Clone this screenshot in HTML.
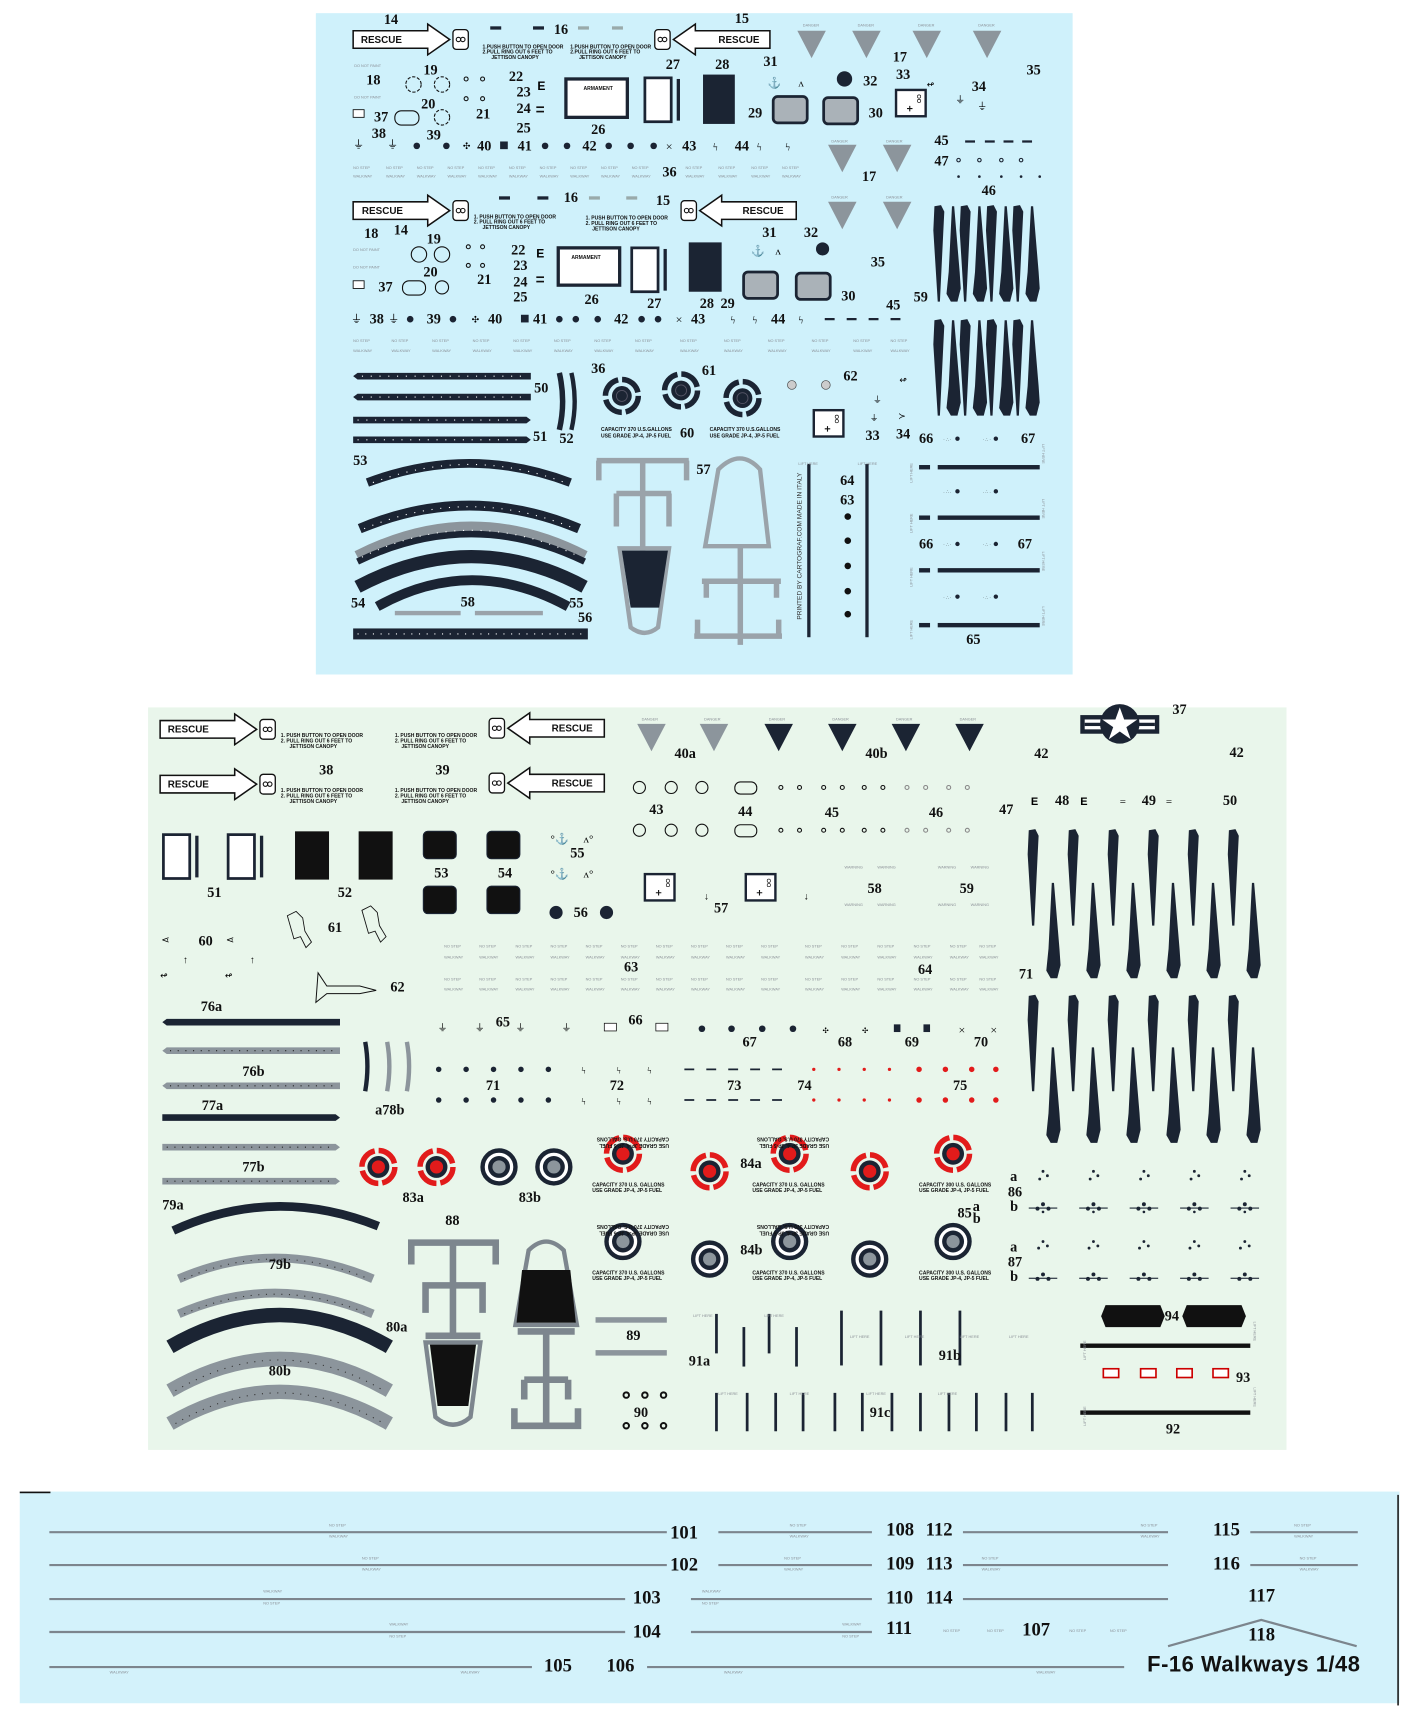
<!DOCTYPE html>
<html><head><meta charset="utf-8"><style>
html,body{margin:0;padding:0;background:#fff;width:1417px;height:1723px;overflow:hidden}
svg{display:block}
.n{font-family:"Liberation Serif",serif;font-weight:bold;font-size:13px;fill:#111}
.m{font-family:"Liberation Serif",serif;font-size:17px;fill:#111}
.r{font-family:"Liberation Sans",sans-serif;font-weight:bold;font-size:9px;fill:#111}
.t{font-family:"Liberation Sans",sans-serif;font-weight:bold;font-size:4.6px;fill:#111}
.g{font-family:"Liberation Sans",sans-serif;font-size:3.5px;fill:#8a8f96}
.d{font-family:"Liberation Sans",sans-serif;font-size:4px;fill:#333}
</style></head><body>
<svg width="1417" height="1723" viewBox="0 0 1292 1571" preserveAspectRatio="none" xmlns="http://www.w3.org/2000/svg" xmlns:xlink="http://www.w3.org/1999/xlink">
<defs>
<g id="resR"><polygon points="0,0 68,0 68,-6 88,8 68,22 68,16 0,16" fill="#fff" stroke="#111" stroke-width="1.4"/><rect x="91" y="-1" width="14" height="18" rx="3" fill="#fff" stroke="#111" stroke-width="1.2"/><circle cx="96" cy="8" r="2" fill="none" stroke="#111"/><circle cx="100" cy="8" r="2" fill="none" stroke="#111"/></g>
<g id="resL"><polygon points="105,0 37,0 37,-6 17,8 37,22 37,16 105,16" fill="#fff" stroke="#111" stroke-width="1.4"/><rect x="0" y="-1" width="14" height="18" rx="3" fill="#fff" stroke="#111" stroke-width="1.2"/><circle cx="5" cy="8" r="2" fill="none" stroke="#111"/><circle cx="9" cy="8" r="2" fill="none" stroke="#111"/></g>
<g id="triG"><polygon points="0,0 26,0 13,25" fill="#8c959c"/></g>
<g id="triD"><polygon points="0,0 26,0 13,25" fill="#1b2433"/></g>
<g id="spD"><path d="M0,0 L6,-1 L9,5 L8,25 L5,87 L3,87 L-1,22 Z" fill="#1b2433"/></g>
<g id="spU"><path d="M4,0 L6,0 L11,60 L12,75 L9,87 L3,87 L-1,80 L1,60 Z" fill="#1b2433"/></g>
<g id="rndD"><circle r="15" fill="none" stroke="#1b2433" stroke-width="5" stroke-dasharray="20 3.6"/><circle r="9" fill="#1b2433"/><circle r="5" fill="none" stroke="#556" stroke-width="0.8"/></g>
<g id="rndR"><circle r="15" fill="none" stroke="#e21b1b" stroke-width="5" stroke-dasharray="20 3.6"/><circle r="10" fill="#1b2433"/><circle r="6" fill="#e21b1b"/></g>
<g id="rndG"><circle r="15" fill="#fff" stroke="#1b2433" stroke-width="4"/><circle r="10" fill="#1b2433"/><circle r="6" fill="#8c959c"/></g>
<g id="frame"><rect x="0" y="0" width="24" height="40" fill="#fff" stroke="#1b2433" stroke-width="2.5"/><rect x="29" y="1" width="3" height="38" fill="#1b2433"/></g>
<g id="gsq"><rect x="0" y="0" width="31" height="24" rx="4" fill="#aab2b8" stroke="#1b2433" stroke-width="2.5"/></g>
<g id="bsq"><rect x="0" y="0" width="30" height="25" rx="4" fill="#111" stroke="#1b2433" stroke-width="1"/></g>
<g id="box"><rect x="0" y="0" width="27" height="24" fill="#fff" stroke="#1b2433" stroke-width="2.2"/><circle cx="21" cy="6" r="1.5" fill="none" stroke="#111" stroke-width=".6"/><circle cx="21" cy="10" r="1.5" fill="none" stroke="#111" stroke-width=".6"/><path d="M10,17h5M12.5,14.5v5" stroke="#111" stroke-width="1"/></g>
</defs>

<!-- ===================== SHEET 1 ===================== -->
<rect x="288" y="12" width="690" height="603" fill="#cff1fb"/>
<use xlink:href="#resR" x="322" y="28"/>
<use xlink:href="#resL" x="597" y="28"/>
<text class="r" x="329" y="39">RESCUE</text><text class="r" x="655" y="39">RESCUE</text>
<text class="t" x="440" y="44">1.PUSH BUTTON TO OPEN DOOR</text><text class="t" x="440" y="49">2.PULL RING OUT 6 FEET TO</text><text class="t" x="448" y="54">JETTISON CANOPY</text>
<text class="t" x="520" y="44">1.PUSH BUTTON TO OPEN DOOR</text><text class="t" x="520" y="49">2.PULL RING OUT 6 FEET TO</text><text class="t" x="528" y="54">JETTISON CANOPY</text>
<rect x="447" y="24" width="10" height="3" fill="#1b2433"/><rect x="486" y="24" width="10" height="3" fill="#1b2433"/><rect x="527" y="24" width="10" height="3" fill="#9aa"/><rect x="558" y="24" width="10" height="3" fill="#9aa"/>
<text class="n" x="350" y="22">14</text><text class="n" x="505" y="31">16</text><text class="n" x="670" y="21">15</text>
<use xlink:href="#triG" x="727" y="28"/><use xlink:href="#triG" x="777" y="28"/><use xlink:href="#triG" x="832" y="28"/><use xlink:href="#triG" x="887" y="28"/>
<text class="g" x="732" y="24">DANGER</text><text class="g" x="782" y="24">DANGER</text><text class="g" x="837" y="24">DANGER</text><text class="g" x="892" y="24">DANGER</text>
<text class="n" x="814" y="56">17</text><text class="n" x="936" y="68">35</text><text class="n" x="817" y="72">33</text><text class="n" x="886" y="83">34</text>
<text class="g" x="323" y="61">DO NOT PAINT</text><text class="g" x="323" y="90">DO NOT PAINT</text>
<text class="n" x="334" y="77">18</text><text class="n" x="386" y="68">19</text><text class="n" x="384" y="99">20</text><text class="n" x="341" y="111">37</text><text class="n" x="434" y="108">21</text>
<text class="n" x="464" y="74">22</text><text class="n" x="471" y="88">23</text><text class="n" x="471" y="103">24</text><text class="n" x="471" y="121">25</text>
<circle cx="377" cy="77" r="7" fill="none" stroke="#111" stroke-dasharray="3 1.5"/><circle cx="403" cy="77" r="7" fill="none" stroke="#111" stroke-dasharray="3 1.5"/>
<rect x="360" y="101" width="22" height="13" rx="6" fill="none" stroke="#111"/><circle cx="403" cy="107" r="7" fill="none" stroke="#111" stroke-dasharray="3 1.5"/>
<rect x="322" y="100" width="10" height="7" fill="#fff" stroke="#111" stroke-width=".8"/>
<circle cx="425" cy="72" r="1.8" fill="none" stroke="#111"/><circle cx="440" cy="72" r="1.8" fill="none" stroke="#111"/><circle cx="425" cy="90" r="1.8" fill="none" stroke="#111"/><circle cx="440" cy="90" r="1.8" fill="none" stroke="#111"/>
<text x="490" y="82" font-family="Liberation Sans" font-weight="bold" font-size="11">E</text><rect x="489" y="97" width="7" height="1.5" fill="#111"/><rect x="489" y="101" width="7" height="1.5" fill="#111"/>
<rect x="516" y="72" width="56" height="35" fill="#fff" stroke="#1b2433" stroke-width="3"/><text class="t" x="532" y="82">ARMAMENT</text>
<text class="n" x="539" y="122">26</text>
<use xlink:href="#frame" x="588" y="71"/><text class="n" x="607" y="63">27</text>
<rect x="641" y="68" width="29" height="45" fill="#1b2433"/><text class="n" x="652" y="63">28</text>
<use xlink:href="#gsq" x="705" y="88"/><use xlink:href="#gsq" x="751" y="89"/>
<text class="n" x="682" y="107">29</text><text class="n" x="792" y="107">30</text><text class="n" x="696" y="60">31</text><text class="n" x="787" y="78">32</text>
<circle cx="770" cy="72" r="7" fill="#1b2433"/>
<text x="700" y="79" font-size="10" fill="#111">⚓</text><text x="728" y="79" font-size="10" fill="#111">ʌ</text>
<use xlink:href="#box" x="817" y="82"/>
<text x="845" y="80" font-size="8">↫</text><text x="871" y="94" font-size="9">⏚</text><text x="891" y="100" font-size="9">⏚</text>
<text class="n" x="339" y="126">38</text><text class="n" x="389" y="127">39</text><text class="n" x="435" y="137">40</text><text class="n" x="472" y="137">41</text><text class="n" x="531" y="137">42</text><text class="n" x="622" y="137">43</text><text class="n" x="670" y="137">44</text>
<text x="322" y="135" font-size="10">⏚</text><text x="353" y="135" font-size="10">⏚</text>
<circle cx="380" cy="133" r="3" fill="#1b2433"/><circle cx="407" cy="133" r="3" fill="#1b2433"/><text x="422" y="136" font-size="8">✣</text><rect x="456" y="129" width="7" height="7" fill="#1b2433"/>
<circle cx="497" cy="133" r="3" fill="#1b2433"/><circle cx="517" cy="133" r="3" fill="#1b2433"/><circle cx="555" cy="133" r="3" fill="#1b2433"/><circle cx="575" cy="133" r="3" fill="#1b2433"/><circle cx="596" cy="133" r="3" fill="#1b2433"/>
<text x="607" y="137" font-size="11">×</text><text x="650" y="137" font-size="10">ϟ</text><text x="690" y="137" font-size="10">ϟ</text><text x="716" y="137" font-size="10">ϟ</text>
<text class="n" x="852" y="132">45</text><text class="n" x="852" y="151">47</text>
<path d="M880,129h9M898,129h9M915,129h9M932,129h9" stroke="#1b2433" stroke-width="2"/>
<g fill="none" stroke="#1b2433"><circle cx="874" cy="146" r="1.6"/><circle cx="893" cy="146" r="1.6"/><circle cx="913" cy="146" r="1.6"/><circle cx="931" cy="146" r="1.6"/></g>
<g fill="#1b2433"><circle cx="874" cy="161" r="1.2"/><circle cx="893" cy="161" r="1.2"/><circle cx="913" cy="161" r="1.2"/><circle cx="931" cy="161" r="1.2"/><circle cx="948" cy="161" r="1.2"/></g>
<use xlink:href="#triG" x="755" y="132"/><use xlink:href="#triG" x="805" y="132"/>
<text class="g" x="758" y="130">DANGER</text><text class="g" x="808" y="130">DANGER</text>
<text class="n" x="786" y="165">17</text><text class="n" x="895" y="178">46</text><text class="n" x="604" y="161">36</text>
<g class="g"><text x="322" y="154">NO STEP</text><text x="352" y="154">NO STEP</text><text x="380" y="154">NO STEP</text><text x="408" y="154">NO STEP</text><text x="436" y="154">NO STEP</text><text x="464" y="154">NO STEP</text><text x="492" y="154">NO STEP</text><text x="520" y="154">NO STEP</text><text x="548" y="154">NO STEP</text><text x="576" y="154">NO STEP</text><text x="625" y="154">NO STEP</text><text x="655" y="154">NO STEP</text><text x="685" y="154">NO STEP</text><text x="713" y="154">NO STEP</text>
<text x="322" y="162">WALKWAY</text><text x="352" y="162">WALKWAY</text><text x="380" y="162">WALKWAY</text><text x="408" y="162">WALKWAY</text><text x="436" y="162">WALKWAY</text><text x="464" y="162">WALKWAY</text><text x="492" y="162">WALKWAY</text><text x="520" y="162">WALKWAY</text><text x="548" y="162">WALKWAY</text><text x="576" y="162">WALKWAY</text><text x="625" y="162">WALKWAY</text><text x="655" y="162">WALKWAY</text><text x="685" y="162">WALKWAY</text><text x="713" y="162">WALKWAY</text></g>

<!-- second half -->
<use xlink:href="#resR" x="322" y="184"/><use xlink:href="#resL" x="621" y="184"/>
<text class="r" x="330" y="195">RESCUE</text><text class="r" x="677" y="195">RESCUE</text>
<text class="t" x="432" y="199">1. PUSH BUTTON TO OPEN DOOR</text><text class="t" x="432" y="204">2. PULL RING OUT 6 FEET TO</text><text class="t" x="440" y="209">JETTISON CANOPY</text>
<text class="t" x="534" y="200">1. PUSH BUTTON TO OPEN DOOR</text><text class="t" x="534" y="205">2. PULL RING OUT 6 FEET TO</text><text class="t" x="540" y="210">JETTISON CANOPY</text>
<rect x="455" y="179" width="10" height="3" fill="#1b2433"/><rect x="490" y="179" width="10" height="3" fill="#1b2433"/><rect x="537" y="179" width="10" height="3" fill="#9aa"/><rect x="571" y="179" width="10" height="3" fill="#9aa"/>
<text class="n" x="514" y="184">16</text><text class="n" x="598" y="187">15</text>
<text class="n" x="332" y="217">18</text><text class="n" x="359" y="214">14</text><text class="n" x="389" y="222">19</text><text class="n" x="386" y="252">20</text><text class="n" x="345" y="266">37</text><text class="n" x="435" y="259">21</text>
<text class="n" x="466" y="232">22</text><text class="n" x="468" y="246">23</text><text class="n" x="468" y="261">24</text><text class="n" x="468" y="275">25</text>
<text class="g" x="322" y="229">DO NOT PAINT</text><text class="g" x="322" y="245">DO NOT PAINT</text>
<circle cx="382" cy="232" r="7" fill="none" stroke="#111"/><circle cx="403" cy="232" r="7" fill="none" stroke="#111"/>
<rect x="367" y="256" width="21" height="13" rx="6" fill="none" stroke="#111"/><circle cx="403" cy="262" r="6" fill="none" stroke="#111"/>
<rect x="322" y="256" width="10" height="7" fill="#fff" stroke="#111" stroke-width=".8"/>
<circle cx="427" cy="225" r="1.8" fill="none" stroke="#111"/><circle cx="440" cy="225" r="1.8" fill="none" stroke="#111"/><circle cx="427" cy="242" r="1.8" fill="none" stroke="#111"/><circle cx="440" cy="242" r="1.8" fill="none" stroke="#111"/>
<text x="489" y="235" font-family="Liberation Sans" font-weight="bold" font-size="11">E</text><rect x="489" y="252" width="7" height="1.5" fill="#111"/><rect x="489" y="256" width="7" height="1.5" fill="#111"/>
<rect x="509" y="226" width="56" height="34" fill="#fff" stroke="#1b2433" stroke-width="3"/><text class="t" x="521" y="236">ARMAMENT</text>
<text class="n" x="533" y="277">26</text>
<use xlink:href="#frame" x="576" y="226"/><text class="n" x="590" y="281">27</text>
<rect x="628" y="221" width="30" height="45" fill="#1b2433"/><text class="n" x="638" y="281">28</text><text class="n" x="657" y="281">29</text>
<use xlink:href="#gsq" x="678" y="248"/><use xlink:href="#gsq" x="726" y="249"/>
<text class="n" x="767" y="274">30</text><text class="n" x="695" y="216">31</text><text class="n" x="733" y="216">32</text>
<circle cx="750" cy="227" r="6" fill="#1b2433"/><text x="685" y="232" font-size="10">⚓</text><text x="707" y="232" font-size="10">ʌ</text>
<use xlink:href="#triG" x="755" y="184"/><use xlink:href="#triG" x="805" y="184"/>
<text class="g" x="758" y="181">DANGER</text><text class="g" x="808" y="181">DANGER</text>
<text class="n" x="794" y="243">35</text><text class="n" x="808" y="282">45</text><text class="n" x="833" y="275">59</text>
<text class="n" x="337" y="295">38</text><text class="n" x="389" y="295">39</text><text class="n" x="445" y="295">40</text><text class="n" x="486" y="295">41</text><text class="n" x="560" y="295">42</text><text class="n" x="630" y="295">43</text><text class="n" x="703" y="295">44</text>
<text x="320" y="294" font-size="10">⏚</text><text x="354" y="294" font-size="10">⏚</text>
<circle cx="374" cy="291" r="3" fill="#1b2433"/><circle cx="413" cy="291" r="3" fill="#1b2433"/><text x="430" y="294" font-size="8">✣</text><rect x="475" y="287" width="7" height="7" fill="#1b2433"/>
<circle cx="510" cy="291" r="3" fill="#1b2433"/><circle cx="525" cy="291" r="3" fill="#1b2433"/><circle cx="545" cy="291" r="3" fill="#1b2433"/><circle cx="585" cy="291" r="3" fill="#1b2433"/><circle cx="600" cy="291" r="3" fill="#1b2433"/>
<text x="616" y="295" font-size="11">×</text><text x="666" y="295" font-size="10">ϟ</text><text x="686" y="295" font-size="10">ϟ</text><text x="728" y="295" font-size="10">ϟ</text>
<path d="M752,291h9M772,291h9M792,291h9M812,291h9" stroke="#1b2433" stroke-width="2"/>
<g class="g"><text x="322" y="312">NO STEP</text><text x="357" y="312">NO STEP</text><text x="394" y="312">NO STEP</text><text x="431" y="312">NO STEP</text><text x="468" y="312">NO STEP</text><text x="505" y="312">NO STEP</text><text x="542" y="312">NO STEP</text><text x="579" y="312">NO STEP</text><text x="620" y="312">NO STEP</text><text x="660" y="312">NO STEP</text><text x="700" y="312">NO STEP</text><text x="740" y="312">NO STEP</text><text x="778" y="312">NO STEP</text><text x="812" y="312">NO STEP</text>
<text x="322" y="321">WALKWAY</text><text x="357" y="321">WALKWAY</text><text x="394" y="321">WALKWAY</text><text x="431" y="321">WALKWAY</text><text x="468" y="321">WALKWAY</text><text x="505" y="321">WALKWAY</text><text x="542" y="321">WALKWAY</text><text x="579" y="321">WALKWAY</text><text x="620" y="321">WALKWAY</text><text x="660" y="321">WALKWAY</text><text x="700" y="321">WALKWAY</text><text x="740" y="321">WALKWAY</text><text x="778" y="321">WALKWAY</text><text x="812" y="321">WALKWAY</text></g>
<!-- strakes sheet1 -->
<g transform="translate(852,188)">
<use xlink:href="#spD" x="0"/><use xlink:href="#spU" x="12"/><use xlink:href="#spD" x="24"/><use xlink:href="#spU" x="36"/><use xlink:href="#spD" x="48"/><use xlink:href="#spU" x="60"/><use xlink:href="#spD" x="72"/><use xlink:href="#spU" x="84"/>
</g>
<g transform="translate(852,292)">
<use xlink:href="#spD" x="0"/><use xlink:href="#spU" x="12"/><use xlink:href="#spD" x="24"/><use xlink:href="#spU" x="36"/><use xlink:href="#spD" x="48"/><use xlink:href="#spU" x="60"/><use xlink:href="#spD" x="72"/><use xlink:href="#spU" x="84"/>
</g>
<!-- strips 50/51 -->
<g fill="#1b2433"><path d="M326,340h158v6h-158l-4,-3z"/><path d="M326,359h158v6h-158l-4,-3z"/><path d="M322,380h158l4,3l-4,3h-158z"/><path d="M322,398h158l4,3l-4,3h-158z"/></g>
<g stroke="#fff" stroke-width="1" stroke-dasharray="1 7"><path d="M330,343h150M330,362h150M326,383h150M326,401h150"/></g>
<path d="M510,340q6,26 0,52" fill="none" stroke="#1b2433" stroke-width="5"/><path d="M521,340q6,26 0,52" fill="none" stroke="#1b2433" stroke-width="4"/>
<text class="n" x="487" y="358">50</text><text class="n" x="486" y="402">51</text><text class="n" x="510" y="404">52</text>
<use xlink:href="#rndD" x="567" y="361"/><use xlink:href="#rndD" x="621" y="356"/><use xlink:href="#rndD" x="677" y="363"/>
<text class="n" x="539" y="340">36</text><text class="n" x="640" y="342">61</text><text class="n" x="620" y="399">60</text>
<text class="t" x="548" y="393">CAPACITY 370 U.S.GALLONS</text><text class="t" x="548" y="399">USE GRADE JP-4, JP-5 FUEL</text>
<text class="t" x="647" y="393">CAPACITY 370 U.S.GALLONS</text><text class="t" x="647" y="399">USE GRADE JP-4, JP-5 FUEL</text>
<circle cx="722" cy="351" r="4" fill="#ccc" stroke="#444" stroke-width=".6"/><circle cx="753" cy="351" r="4" fill="#ccc" stroke="#444" stroke-width=".6"/>
<text class="n" x="769" y="347">62</text>
<use xlink:href="#box" x="742" y="374"/>
<text x="820" y="349" font-size="8">↫</text><text x="796" y="367" font-size="8">⏚</text><text x="793" y="384" font-size="8">⏚</text><text x="819" y="382" font-size="8">≻</text>
<text class="n" x="789" y="401">33</text><text class="n" x="817" y="400">34</text>
<text class="n" x="838" y="404">66</text><text class="n" x="931" y="404">67</text><text class="n" x="838" y="500">66</text><text class="n" x="928" y="500">67</text><text class="n" x="881" y="587">65</text>
<g fill="#1b2433"><circle cx="873" cy="400" r="2"/><circle cx="908" cy="400" r="2"/><circle cx="873" cy="448" r="2"/><circle cx="908" cy="448" r="2"/><circle cx="873" cy="496" r="2"/><circle cx="908" cy="496" r="2"/><circle cx="873" cy="544" r="2"/><circle cx="908" cy="544" r="2"/></g>
<g class="d"><text x="860" y="402">· ∴ ·</text><text x="896" y="402">· ∴ ·</text><text x="860" y="450">· ∴ ·</text><text x="896" y="450">· ∴ ·</text><text x="860" y="498">· ∴ ·</text><text x="896" y="498">· ∴ ·</text><text x="860" y="546">· ∴ ·</text><text x="896" y="546">· ∴ ·</text></g>
<g fill="#1b2433"><rect x="838" y="424" width="10" height="4"/><rect x="855" y="424" width="93" height="4"/><rect x="838" y="470" width="10" height="4"/><rect x="855" y="470" width="93" height="4"/><rect x="838" y="518" width="10" height="4"/><rect x="855" y="518" width="93" height="4"/><rect x="838" y="568" width="10" height="4"/><rect x="855" y="568" width="93" height="4"/></g>
<g class="g" fill="#333"><text x="832" y="440" transform="rotate(-90 832 440)">LIFT HERE</text><text x="832" y="486" transform="rotate(-90 832 486)">LIFT HERE</text><text x="832" y="535" transform="rotate(-90 832 535)">LIFT HERE</text><text x="832" y="583" transform="rotate(-90 832 583)">LIFT HERE</text><text x="950" y="405" transform="rotate(90 950 405)">LIFT HERE</text><text x="950" y="455" transform="rotate(90 950 455)">LIFT HERE</text><text x="950" y="503" transform="rotate(90 950 503)">LIFT HERE</text><text x="950" y="553" transform="rotate(90 950 553)">LIFT HERE</text></g>
<!-- arcs 53-56 -->
<g fill="none" stroke-linecap="butt">
<path d="M335,440 Q428,405 520,440" stroke="#1b2433" stroke-width="8"/>
<path d="M328,482 Q428,440 528,482" stroke="#1b2433" stroke-width="9"/>
<path d="M326,508 Q430,455 533,508" stroke="#8c959c" stroke-width="12"/>
<path d="M326,512 Q430,462 533,512" stroke="#1b2433" stroke-width="6"/>
<path d="M326,535 Q430,480 533,535" stroke="#1b2433" stroke-width="12"/>
<path d="M344,553 Q430,505 518,553" stroke="#1b2433" stroke-width="9"/>
</g>
<g stroke="#fff" stroke-dasharray="1 7" fill="none" stroke-width="1"><path d="M340,440 Q428,407 515,440"/><path d="M332,482 Q428,442 524,482"/><path d="M330,508 Q430,459 529,508"/></g>
<text class="n" x="322" y="424">53</text><text class="n" x="320" y="554">54</text><text class="n" x="519" y="554">55</text><text class="n" x="527" y="567">56</text><text class="n" x="420" y="553">58</text>
<rect x="360" y="557" width="60" height="4" fill="#9aa3aa"/><rect x="433" y="557" width="62" height="4" fill="#9aa3aa"/>
<rect x="322" y="573" width="214" height="10" fill="#1b2433"/>
<path d="M326,578h206" stroke="#fff" stroke-dasharray="1 6"/>
<!-- 57 -->
<g fill="none" stroke="#9aa3aa" stroke-width="5">
<path d="M544,420h84M546,420v18M626,420v18M586,420v90M562,450h50M562,450v30M610,450v30M586,450v50"/>
<path d="M565,500h45l-10,72q-12,10 -25,0z" stroke-width="4"/>
<path d="M655,428q20,-20 38,0l8,70h-58z" stroke-width="4"/>
<path d="M675,498v90M640,530h72M644,530v15M708,530v15M633,580h80M636,565v15M710,565v15"/>
</g>
<path d="M567,502h42l-8,52h-26z" fill="#1b2433"/>
<text class="n" x="635" y="432">57</text>
<rect x="736" y="423" width="3" height="158" fill="#1b2433"/><rect x="789" y="423" width="3" height="158" fill="#1b2433"/>
<g class="g" fill="#333"><text x="728" y="424">LIFT HERE</text><text x="782" y="424">LIFT HERE</text></g>
<text x="731" y="565" transform="rotate(-90 731 565)" font-family="Liberation Sans" font-size="6" fill="#333">PRINTED BY CARTOGRAF.COM MADE IN ITALY</text>
<g fill="#111"><circle cx="773" cy="471" r="3"/><circle cx="773" cy="493" r="3"/><circle cx="773" cy="516" r="3"/><circle cx="773" cy="539" r="3"/><circle cx="773" cy="560" r="3"/></g>
<text class="n" x="766" y="442">64</text><text class="n" x="766" y="460">63</text>

<!-- ===================== SHEET 2 ===================== -->
<rect x="135" y="645" width="1038" height="677" fill="#e9f6eb"/>
<use xlink:href="#resR" x="146" y="657"/><use xlink:href="#resR" x="146" y="707"/>
<use xlink:href="#resL" x="446" y="656"/><use xlink:href="#resL" x="446" y="706"/>
<text class="r" x="153" y="668">RESCUE</text><text class="r" x="153" y="718">RESCUE</text><text class="r" x="503" y="667">RESCUE</text><text class="r" x="503" y="717">RESCUE</text>
<text class="t" x="256" y="672">1. PUSH BUTTON TO OPEN DOOR</text><text class="t" x="256" y="677">2. PULL RING OUT 6 FEET TO</text><text class="t" x="264" y="682">JETTISON CANOPY</text>
<text class="t" x="360" y="672">1. PUSH BUTTON TO OPEN DOOR</text><text class="t" x="360" y="677">2. PULL RING OUT 6 FEET TO</text><text class="t" x="366" y="682">JETTISON CANOPY</text>
<text class="t" x="256" y="722">1. PUSH BUTTON TO OPEN DOOR</text><text class="t" x="256" y="727">2. PULL RING OUT 6 FEET TO</text><text class="t" x="264" y="732">JETTISON CANOPY</text>
<text class="t" x="360" y="722">1. PUSH BUTTON TO OPEN DOOR</text><text class="t" x="360" y="727">2. PULL RING OUT 6 FEET TO</text><text class="t" x="366" y="732">JETTISON CANOPY</text>
<text class="n" x="291" y="706">38</text><text class="n" x="397" y="706">39</text>
<use xlink:href="#triG" x="581" y="660"/><use xlink:href="#triG" x="638" y="660"/><use xlink:href="#triD" x="697" y="660"/><use xlink:href="#triD" x="755" y="660"/><use xlink:href="#triD" x="813" y="660"/><use xlink:href="#triD" x="871" y="660"/>
<g class="g" fill="#333"><text x="585" y="657">DANGER</text><text x="642" y="657">DANGER</text><text x="701" y="657">DANGER</text><text x="759" y="657">DANGER</text><text x="817" y="657">DANGER</text><text x="875" y="657">DANGER</text></g>
<text class="n" x="615" y="691">40a</text><text class="n" x="789" y="691">40b</text>
<rect x="985" y="652" width="72" height="17" fill="#1b2433"/><rect x="989" y="656" width="64" height="9" fill="#fff"/><rect x="989" y="659" width="64" height="3" fill="#1b2433"/>
<circle cx="1021" cy="660" r="18" fill="#1b2433"/>
<polygon points="1021,645 1025,656 1037,656 1027,663 1031,674 1021,667 1011,674 1015,663 1005,656 1017,656" fill="#fff"/>
<text class="n" x="1069" y="651">37</text><text class="n" x="943" y="691">42</text><text class="n" x="1121" y="690">42</text>
<g fill="none" stroke="#111"><circle cx="583" cy="718" r="5.5"/><circle cx="612" cy="718" r="5.5"/><circle cx="640" cy="718" r="5.5"/><rect x="670" y="713" width="20" height="11" rx="5"/><circle cx="583" cy="757" r="5.5"/><circle cx="612" cy="757" r="5.5"/><circle cx="640" cy="757" r="5.5"/><rect x="670" y="752" width="20" height="11" rx="5"/>
<circle cx="712" cy="718" r="1.8"/><circle cx="729" cy="718" r="1.8"/><circle cx="751" cy="718" r="1.8"/><circle cx="768" cy="718" r="1.8"/><circle cx="788" cy="718" r="1.8"/><circle cx="805" cy="718" r="1.8"/><circle cx="712" cy="757" r="1.8"/><circle cx="729" cy="757" r="1.8"/><circle cx="751" cy="757" r="1.8"/><circle cx="768" cy="757" r="1.8"/><circle cx="788" cy="757" r="1.8"/><circle cx="805" cy="757" r="1.8"/>
</g>
<g fill="none" stroke="#888"><circle cx="827" cy="718" r="1.8"/><circle cx="844" cy="718" r="1.8"/><circle cx="865" cy="718" r="1.8"/><circle cx="882" cy="718" r="1.8"/><circle cx="827" cy="757" r="1.8"/><circle cx="844" cy="757" r="1.8"/><circle cx="865" cy="757" r="1.8"/><circle cx="882" cy="757" r="1.8"/></g>
<text class="n" x="592" y="742">43</text><text class="n" x="673" y="744">44</text><text class="n" x="752" y="745">45</text><text class="n" x="847" y="745">46</text><text class="n" x="911" y="742">47</text>
<text x="940" y="734" font-family="Liberation Sans" font-weight="bold" font-size="10">E</text><text x="985" y="734" font-family="Liberation Sans" font-weight="bold" font-size="10">E</text>
<text class="n" x="962" y="734">48</text><text x="1021" y="734" font-size="10">=</text><text class="n" x="1041" y="734">49</text><text x="1063" y="734" font-size="10">=</text><text class="n" x="1115" y="734">50</text>
<use xlink:href="#frame" x="149" y="761"/><use xlink:href="#frame" x="208" y="761"/>
<rect x="269" y="758" width="31" height="44" fill="#111"/><rect x="327" y="758" width="31" height="44" fill="#111"/>
<text class="n" x="189" y="818">51</text><text class="n" x="308" y="818">52</text>
<use xlink:href="#bsq" x="386" y="758"/><use xlink:href="#bsq" x="444" y="758"/><use xlink:href="#bsq" x="386" y="808"/><use xlink:href="#bsq" x="444" y="808"/>
<text class="n" x="396" y="800">53</text><text class="n" x="454" y="800">54</text>
<text x="502" y="768" font-size="10">°⚓</text><text x="532" y="768" font-size="10">ʌ°</text><text x="502" y="800" font-size="10">°⚓</text><text x="532" y="800" font-size="10">ʌ°</text>
<text class="n" x="520" y="782">55</text><text class="n" x="523" y="836">56</text>
<circle cx="507" cy="832" r="6" fill="#1b2433"/><circle cx="553" cy="832" r="6" fill="#1b2433"/>
<use xlink:href="#box" x="588" y="797"/><use xlink:href="#box" x="680" y="797"/>
<text class="n" x="651" y="832">57</text><text x="642" y="820" font-size="9">↓</text><text x="733" y="820" font-size="9">↓</text>
<text class="n" x="791" y="814">58</text><text class="n" x="875" y="814">59</text>
<g class="g" fill="#333"><text x="770" y="792">WARNING</text><text x="800" y="792">WARNING</text><text x="855" y="792">WARNING</text><text x="885" y="792">WARNING</text><text x="770" y="826">WARNING</text><text x="800" y="826">WARNING</text><text x="855" y="826">WARNING</text><text x="885" y="826">WARNING</text></g>
<text class="n" x="181" y="862">60</text><text class="n" x="299" y="850">61</text><text class="n" x="356" y="904">62</text>
<text x="147" y="860" font-size="9">⋖</text><text x="206" y="860" font-size="9">⋖</text><text x="167" y="878" font-size="9">↑</text><text x="228" y="878" font-size="9">↑</text><text x="146" y="892" font-size="8">↫</text><text x="205" y="892" font-size="8">↫</text>
<path d="M262,835l8,-4l6,6l2,12l6,10l-5,5l-5,-10l-6,2z M330,830l8,-4l6,6l2,12l6,10l-5,5l-5,-10l-6,2z" fill="none" stroke="#111" stroke-width=".8"/>
<path d="M290,887l8,12h30l15,4l-15,3h-30l-10,8z" fill="none" stroke="#111" stroke-width=".9"/>
<g class="g" fill="#444">
<text x="405" y="864">NO STEP</text><text x="437" y="864">NO STEP</text><text x="470" y="864">NO STEP</text><text x="502" y="864">NO STEP</text><text x="534" y="864">NO STEP</text><text x="566" y="864">NO STEP</text><text x="598" y="864">NO STEP</text><text x="630" y="864">NO STEP</text><text x="662" y="864">NO STEP</text><text x="694" y="864">NO STEP</text><text x="734" y="864">NO STEP</text><text x="767" y="864">NO STEP</text><text x="800" y="864">NO STEP</text><text x="833" y="864">NO STEP</text><text x="866" y="864">NO STEP</text><text x="893" y="864">NO STEP</text>
<text x="405" y="874">WALKWAY</text><text x="437" y="874">WALKWAY</text><text x="470" y="874">WALKWAY</text><text x="502" y="874">WALKWAY</text><text x="534" y="874">WALKWAY</text><text x="566" y="874">WALKWAY</text><text x="598" y="874">WALKWAY</text><text x="630" y="874">WALKWAY</text><text x="662" y="874">WALKWAY</text><text x="694" y="874">WALKWAY</text><text x="734" y="874">WALKWAY</text><text x="767" y="874">WALKWAY</text><text x="800" y="874">WALKWAY</text><text x="833" y="874">WALKWAY</text><text x="866" y="874">WALKWAY</text><text x="893" y="874">WALKWAY</text>
<text x="405" y="894">NO STEP</text><text x="437" y="894">NO STEP</text><text x="470" y="894">NO STEP</text><text x="502" y="894">NO STEP</text><text x="534" y="894">NO STEP</text><text x="566" y="894">NO STEP</text><text x="598" y="894">NO STEP</text><text x="630" y="894">NO STEP</text><text x="662" y="894">NO STEP</text><text x="694" y="894">NO STEP</text><text x="734" y="894">NO STEP</text><text x="767" y="894">NO STEP</text><text x="800" y="894">NO STEP</text><text x="833" y="894">NO STEP</text><text x="866" y="894">NO STEP</text><text x="893" y="894">NO STEP</text>
<text x="405" y="903">WALKWAY</text><text x="437" y="903">WALKWAY</text><text x="470" y="903">WALKWAY</text><text x="502" y="903">WALKWAY</text><text x="534" y="903">WALKWAY</text><text x="566" y="903">WALKWAY</text><text x="598" y="903">WALKWAY</text><text x="630" y="903">WALKWAY</text><text x="662" y="903">WALKWAY</text><text x="694" y="903">WALKWAY</text><text x="734" y="903">WALKWAY</text><text x="767" y="903">WALKWAY</text><text x="800" y="903">WALKWAY</text><text x="833" y="903">WALKWAY</text><text x="866" y="903">WALKWAY</text><text x="893" y="903">WALKWAY</text></g>
<text class="n" x="569" y="886">63</text><text class="n" x="837" y="888">64</text>
<text class="n" x="183" y="922">76a</text><text class="n" x="221" y="981">76b</text><text class="n" x="184" y="1012">77a</text><text class="n" x="221" y="1068">77b</text><text class="n" x="342" y="1016">a78b</text>
<path d="M152,929h158v6h-158l-4,-3z" fill="#1b2433"/>
<path d="M152,955h158v6h-158l-4,-3z" fill="#8c959c"/><path d="M152,987h158v6h-158l-4,-3z" fill="#8c959c"/>
<path d="M148,1016h158l4,3l-4,3h-158z" fill="#1b2433"/>
<path d="M148,1043h158l4,3l-4,3h-158z" fill="#8c959c"/><path d="M148,1074h158l4,3l-4,3h-158z" fill="#8c959c"/>
<g stroke="#222" stroke-dasharray="1 6"><path d="M155,958h150M155,990h150M152,1046h150M152,1077h150"/></g>
<path d="M333,950q4,22 0,45" fill="none" stroke="#1b2433" stroke-width="4"/><path d="M353,950q4,22 0,45" fill="none" stroke="#8c959c" stroke-width="4"/><path d="M371,950q4,22 0,45" fill="none" stroke="#8c959c" stroke-width="4"/>
<text x="399" y="940" font-size="9">⏚</text><text x="433" y="940" font-size="9">⏚</text><text x="470" y="940" font-size="9">⏚</text><text x="512" y="940" font-size="9">⏚</text>
<text class="n" x="452" y="936">65</text><text class="n" x="573" y="934">66</text>
<rect x="551" y="933" width="11" height="7" fill="#fff" stroke="#111" stroke-width=".7"/><rect x="598" y="933" width="11" height="7" fill="#fff" stroke="#111" stroke-width=".7"/>
<g fill="#1b2433"><circle cx="640" cy="938" r="3"/><circle cx="667" cy="938" r="3"/><circle cx="695" cy="938" r="3"/><circle cx="723" cy="938" r="3"/><rect x="815" y="934" width="6" height="7"/><rect x="842" y="934" width="6" height="7"/></g>
<text x="750" y="942" font-size="7">✣</text><text x="786" y="942" font-size="7">✣</text><text x="874" y="943" font-size="11">×</text><text x="903" y="943" font-size="11">×</text>
<text class="n" x="677" y="954">67</text><text class="n" x="764" y="954">68</text><text class="n" x="825" y="954">69</text><text class="n" x="888" y="954">70</text>
<g fill="#1b2433"><circle cx="400" cy="975" r="2.5"/><circle cx="425" cy="975" r="2.5"/><circle cx="450" cy="975" r="2.5"/><circle cx="475" cy="975" r="2.5"/><circle cx="500" cy="975" r="2.5"/><circle cx="400" cy="1003" r="2.5"/><circle cx="425" cy="1003" r="2.5"/><circle cx="450" cy="1003" r="2.5"/><circle cx="475" cy="1003" r="2.5"/><circle cx="500" cy="1003" r="2.5"/></g>
<text x="530" y="979" font-size="9">ϟ</text><text x="562" y="979" font-size="9">ϟ</text><text x="590" y="979" font-size="9">ϟ</text><text x="530" y="1007" font-size="9">ϟ</text><text x="562" y="1007" font-size="9">ϟ</text><text x="590" y="1007" font-size="9">ϟ</text>
<path d="M624,975h9M644,975h9M664,975h9M684,975h9M704,975h9M624,1003h9M644,1003h9M664,1003h9M684,1003h9M704,1003h9" stroke="#1b2433" stroke-width="1.6"/>
<g fill="#e21b1b"><circle cx="742" cy="975" r="1.5"/><circle cx="765" cy="975" r="1.5"/><circle cx="788" cy="975" r="1.5"/><circle cx="811" cy="975" r="1.5"/><circle cx="742" cy="1003" r="1.5"/><circle cx="765" cy="1003" r="1.5"/><circle cx="788" cy="1003" r="1.5"/><circle cx="811" cy="1003" r="1.5"/><circle cx="838" cy="975" r="2.5"/><circle cx="862" cy="975" r="2.5"/><circle cx="886" cy="975" r="2.5"/><circle cx="908" cy="975" r="2.5"/><circle cx="838" cy="1003" r="2.5"/><circle cx="862" cy="1003" r="2.5"/><circle cx="886" cy="1003" r="2.5"/><circle cx="908" cy="1003" r="2.5"/></g>
<text class="n" x="443" y="994">71</text><text class="n" x="556" y="994">72</text><text class="n" x="663" y="994">73</text><text class="n" x="727" y="994">74</text><text class="n" x="869" y="994">75</text>
<g transform="translate(938,757)"><use xlink:href="#spD" x="0"/><use xlink:href="#spD" x="36.5"/><use xlink:href="#spD" x="73"/><use xlink:href="#spD" x="109.5"/><use xlink:href="#spD" x="146"/><use xlink:href="#spD" x="182.5"/></g>
<g transform="translate(955,805)"><use xlink:href="#spU" x="0"/><use xlink:href="#spU" x="36.5"/><use xlink:href="#spU" x="73"/><use xlink:href="#spU" x="109.5"/><use xlink:href="#spU" x="146"/><use xlink:href="#spU" x="182.5"/></g>
<g transform="translate(938,908)"><use xlink:href="#spD" x="0"/><use xlink:href="#spD" x="36.5"/><use xlink:href="#spD" x="73"/><use xlink:href="#spD" x="109.5"/><use xlink:href="#spD" x="146"/><use xlink:href="#spD" x="182.5"/></g>
<g transform="translate(955,955)"><use xlink:href="#spU" x="0"/><use xlink:href="#spU" x="36.5"/><use xlink:href="#spU" x="73"/><use xlink:href="#spU" x="109.5"/><use xlink:href="#spU" x="146"/><use xlink:href="#spU" x="182.5"/></g>
<text class="n" x="929" y="892">71</text>
<use xlink:href="#rndR" x="345" y="1064"/><use xlink:href="#rndR" x="398" y="1064"/><use xlink:href="#rndG" x="455" y="1064"/><use xlink:href="#rndG" x="505" y="1064"/>
<text class="n" x="367" y="1096">83a</text><text class="n" x="473" y="1096">83b</text>
<use xlink:href="#rndR" x="568" y="1052"/><use xlink:href="#rndR" x="647" y="1068"/><use xlink:href="#rndR" x="720" y="1052"/><use xlink:href="#rndR" x="793" y="1068"/><use xlink:href="#rndR" x="869" y="1052"/>
<use xlink:href="#rndG" x="568" y="1132"/><use xlink:href="#rndG" x="647" y="1148"/><use xlink:href="#rndG" x="720" y="1132"/><use xlink:href="#rndG" x="793" y="1148"/><use xlink:href="#rndG" x="869" y="1132"/>
<text class="n" x="675" y="1065">84a</text><text class="n" x="675" y="1144">84b</text><text class="n" x="873" y="1110">85</text><text class="n" x="887" y="1104" font-size="10">a</text><text class="n" x="887" y="1115" font-size="10">b</text>
<g class="t"><text x="540" y="1082">CAPACITY 370 U.S. GALLONS</text><text x="540" y="1087">USE GRADE JP-4, JP-5 FUEL</text><text x="686" y="1082">CAPACITY 370 U.S. GALLONS</text><text x="686" y="1087">USE GRADE JP-4, JP-5 FUEL</text><text x="838" y="1082">CAPACITY 300 U.S. GALLONS</text><text x="838" y="1087">USE GRADE JP-4, JP-5 FUEL</text>
<text x="540" y="1162">CAPACITY 370 U.S. GALLONS</text><text x="540" y="1167">USE GRADE JP-4, JP-5 FUEL</text><text x="686" y="1162">CAPACITY 370 U.S. GALLONS</text><text x="686" y="1167">USE GRADE JP-4, JP-5 FUEL</text><text x="838" y="1162">CAPACITY 300 U.S. GALLONS</text><text x="838" y="1167">USE GRADE JP-4, JP-5 FUEL</text></g>
<g class="t"><text x="656" y="1037" transform="rotate(180 633 1037)">CAPACITY 370 U.S. GALLONS</text><text x="656" y="1043" transform="rotate(180 633 1043)">USE GRADE JP-4, JP-5 FUEL</text><text x="802" y="1037" transform="rotate(180 779 1037)">CAPACITY 370 U.S. GALLONS</text><text x="802" y="1043" transform="rotate(180 779 1043)">USE GRADE JP-4, JP-5 FUEL</text><text x="656" y="1117" transform="rotate(180 633 1117)">CAPACITY 370 U.S. GALLONS</text><text x="656" y="1123" transform="rotate(180 633 1123)">USE GRADE JP-4, JP-5 FUEL</text><text x="802" y="1117" transform="rotate(180 779 1117)">CAPACITY 370 U.S. GALLONS</text><text x="802" y="1123" transform="rotate(180 779 1123)">USE GRADE JP-4, JP-5 FUEL</text></g>
<text class="n" x="921" y="1077" font-size="10">a</text><text class="n" x="919" y="1091">86</text><text class="n" x="921" y="1104" font-size="10">b</text>
<text class="n" x="921" y="1141" font-size="10">a</text><text class="n" x="919" y="1155">87</text><text class="n" x="921" y="1168" font-size="10">b</text>
<g fill="#1b2433">
<g id="s86"><circle cx="951" cy="1068" r="1.3"/><circle cx="955" cy="1072" r="1.3"/><circle cx="948" cy="1075" r="1.3"/><circle cx="951" cy="1098" r="1.8"/><circle cx="956" cy="1102" r="1.8"/><circle cx="946" cy="1102" r="1.8"/><circle cx="951" cy="1105" r="1.2"/><rect x="938" y="1101" width="26" height="1"/><circle cx="951" cy="1132" r="1.3"/><circle cx="955" cy="1136" r="1.3"/><circle cx="947" cy="1138" r="1.3"/><circle cx="951" cy="1162" r="1.8"/><circle cx="956" cy="1166" r="1.8"/><circle cx="946" cy="1166" r="1.8"/><rect x="938" y="1165" width="26" height="1"/></g>
<use xlink:href="#s86" x="46"/><use xlink:href="#s86" x="92"/><use xlink:href="#s86" x="138"/><use xlink:href="#s86" x="184"/>
</g>
<g fill="none">
<path d="M158,1122 Q250,1080 345,1118" stroke="#1b2433" stroke-width="8"/>
<path d="M163,1166 Q250,1128 340,1166" stroke="#8c959c" stroke-width="8"/>
<path d="M163,1198 Q250,1160 340,1198" stroke="#8c959c" stroke-width="8"/>
<path d="M155,1228 Q255,1170 355,1228" stroke="#1b2433" stroke-width="13"/>
<path d="M155,1268 Q255,1210 355,1268" stroke="#8c959c" stroke-width="13"/>
<path d="M155,1298 Q255,1240 355,1298" stroke="#8c959c" stroke-width="13"/>
</g>
<g fill="none" stroke="#333" stroke-dasharray="1 6"><path d="M168,1166 Q250,1130 336,1166"/><path d="M168,1198 Q250,1162 336,1198"/><path d="M160,1268 Q255,1212 350,1268"/><path d="M160,1298 Q255,1242 350,1298"/></g>
<text class="n" x="148" y="1103">79a</text><text class="n" x="245" y="1157">79b</text><text class="n" x="352" y="1214">80a</text><text class="n" x="245" y="1254">80b</text>
<!-- 88 -->
<g fill="none" stroke="#7d868e" stroke-width="6">
<path d="M372,1133h83M375,1133v20M452,1133v20M413,1133v85M385,1172h58M388,1172v25M440,1172v25M388,1218h50"/>
<path d="M388,1224h50l-9,68q-16,14 -32,0z" stroke-width="4"/>
<path d="M482,1140q16,-16 32,0l12,68h-56z" stroke-width="4"/>
<path d="M472,1214h52M498,1214v88M478,1258h40M478,1258v18M518,1258v18M466,1300h64M469,1284v16M527,1284v16"/>
</g>
<path d="M392,1226h42l-7,56h-28z" fill="#111"/><path d="M476,1158h44l5,48h-54z" fill="#111"/>
<text class="n" x="406" y="1117">88</text>
<rect x="543" y="1201" width="65" height="5" fill="#8c959c"/><rect x="543" y="1231" width="65" height="5" fill="#8c959c"/><text class="n" x="571" y="1222">89</text>
<g fill="none" stroke="#111" stroke-width="1.8"><circle cx="571" cy="1272" r="2.5"/><circle cx="588" cy="1272" r="2.5"/><circle cx="605" cy="1272" r="2.5"/><circle cx="571" cy="1300" r="2.5"/><circle cx="588" cy="1300" r="2.5"/><circle cx="605" cy="1300" r="2.5"/></g>
<text class="n" x="578" y="1292">90</text>
<g fill="#1b2433"><rect x="652" y="1198" width="2.5" height="36"/><rect x="677" y="1210" width="2.5" height="36"/><rect x="700" y="1198" width="2.5" height="36"/><rect x="725" y="1210" width="2.5" height="36"/>
<rect x="766" y="1195" width="2.5" height="50"/><rect x="802" y="1195" width="2.5" height="50"/><rect x="838" y="1195" width="2.5" height="50"/><rect x="874" y="1195" width="2.5" height="50"/>
<rect x="652" y="1270" width="2.5" height="35"/><rect x="680" y="1270" width="2.5" height="35"/><rect x="706" y="1270" width="2.5" height="35"/><rect x="731" y="1270" width="2.5" height="35"/><rect x="760" y="1270" width="2.5" height="35"/><rect x="785" y="1270" width="2.5" height="35"/><rect x="812" y="1270" width="2.5" height="35"/><rect x="838" y="1270" width="2.5" height="35"/><rect x="864" y="1270" width="2.5" height="35"/><rect x="889" y="1270" width="2.5" height="35"/><rect x="916" y="1270" width="2.5" height="35"/><rect x="940" y="1270" width="2.5" height="35"/></g>
<g class="g" fill="#333"><text x="632" y="1201">LIFT HERE</text><text x="697" y="1201">LIFT HERE</text><text x="775" y="1220">LIFT HERE</text><text x="825" y="1220">LIFT HERE</text><text x="875" y="1220">LIFT HERE</text><text x="920" y="1220">LIFT HERE</text><text x="655" y="1272">LIFT HERE</text><text x="720" y="1272">LIFT HERE</text><text x="790" y="1272">LIFT HERE</text><text x="855" y="1272">LIFT HERE</text></g>
<text class="n" x="628" y="1245">91a</text><text class="n" x="856" y="1240">91b</text><text class="n" x="793" y="1292">91c</text>
<path d="M1008,1190h50l4,10l-4,10h-50l-4,-10z" fill="#111"/><path d="M1082,1190h50l4,10l-4,10h-50l-4,-10z" fill="#111"/>
<text class="n" x="1062" y="1204">94</text>
<rect x="985" y="1225" width="155" height="4" fill="#111"/><rect x="985" y="1286" width="155" height="4" fill="#111"/>
<g class="g" fill="#333"><text x="990" y="1240" transform="rotate(-90 990 1240)">LIFT HERE</text><text x="990" y="1300" transform="rotate(-90 990 1300)">LIFT HERE</text><text x="1143" y="1205" transform="rotate(90 1143 1205)">LIFT HERE</text><text x="1143" y="1265" transform="rotate(90 1143 1265)">LIFT HERE</text></g>
<g><rect x="1006" y="1248" width="14" height="8" fill="#fff" stroke="#c00" stroke-width="1.5"/><rect x="1040" y="1248" width="14" height="8" fill="#fff" stroke="#c00" stroke-width="1.5"/><rect x="1073" y="1248" width="14" height="8" fill="#fff" stroke="#c00" stroke-width="1.5"/><rect x="1106" y="1248" width="14" height="8" fill="#fff" stroke="#c00" stroke-width="1.5"/></g>
<text class="n" x="1127" y="1260">93</text><text class="n" x="1063" y="1307">92</text>

<!-- ===================== SHEET 3 ===================== -->
<rect x="18" y="1360" width="1258" height="193" fill="#d3f2fb"/>
<rect x="18" y="1360" width="28" height="1.5" fill="#111"/><rect x="1274" y="1363" width="1.5" height="192" fill="#222"/>
<g stroke="#7c858d" stroke-width="2">
<path d="M45,1397H608M655,1397H795M878,1397H1065M1140,1397H1238"/>
<path d="M45,1427H608M655,1427H795M878,1427H1065M1140,1427H1238"/>
<path d="M45,1458H570M630,1458H795M878,1458H1065"/>
<path d="M45,1488H570M630,1488H795"/>
<path d="M45,1520H485M590,1520H1025"/>
</g>
<path d="M1065,1501L1150,1477L1237,1501" fill="none" stroke="#7c858d" stroke-width="2"/>
<g class="g" fill="#555"><text x="300" y="1392">NO STEP</text><text x="300" y="1402">WALKWAY</text><text x="720" y="1392">NO STEP</text><text x="720" y="1402">WALKWAY</text><text x="1040" y="1392">NO STEP</text><text x="1040" y="1402">WALKWAY</text><text x="1180" y="1392">NO STEP</text><text x="1180" y="1402">WALKWAY</text>
<text x="330" y="1422">NO STEP</text><text x="330" y="1432">WALKWAY</text><text x="715" y="1422">NO STEP</text><text x="715" y="1432">WALKWAY</text><text x="895" y="1422">NO STEP</text><text x="895" y="1432">WALKWAY</text><text x="1185" y="1422">NO STEP</text><text x="1185" y="1432">WALKWAY</text>
<text x="240" y="1452">WALKWAY</text><text x="240" y="1463">NO STEP</text><text x="640" y="1452">WALKWAY</text><text x="640" y="1463">NO STEP</text>
<text x="355" y="1482">WALKWAY</text><text x="355" y="1493">NO STEP</text><text x="768" y="1482">WALKWAY</text><text x="768" y="1493">NO STEP</text>
<text x="860" y="1488">NO STEP</text><text x="900" y="1488">NO STEP</text><text x="975" y="1488">NO STEP</text><text x="1012" y="1488">NO STEP</text>
<text x="100" y="1526">WALKWAY</text><text x="420" y="1526">WALKWAY</text><text x="660" y="1526">WALKWAY</text><text x="945" y="1526">WALKWAY</text></g>
<g class="m" font-weight="bold">
<text x="611" y="1403">101</text><text x="808" y="1400">108</text><text x="844" y="1400">112</text><text x="1106" y="1400">115</text>
<text x="611" y="1432">102</text><text x="808" y="1431">109</text><text x="844" y="1431">113</text><text x="1106" y="1431">116</text>
<text x="577" y="1462">103</text><text x="808" y="1462">110</text><text x="844" y="1462">114</text><text x="1138" y="1460">117</text>
<text x="577" y="1493">104</text><text x="808" y="1490">111</text><text x="932" y="1491">107</text><text x="1138" y="1496">118</text>
<text x="496" y="1524">105</text><text x="553" y="1524">106</text>
</g>
<text x="1046" y="1524" font-family="Liberation Sans" font-weight="bold" font-size="20" fill="#111" textLength="194">F-16 Walkways 1/48</text>
</svg>
</body></html>
